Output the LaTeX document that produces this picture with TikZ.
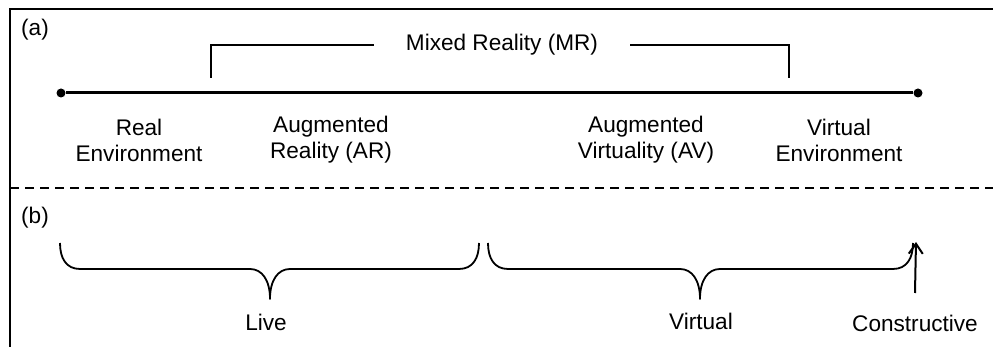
\documentclass[tikz,border=0pt]{standalone}
\usepackage{fontspec}
\setmainfont{Liberation Sans}
\usetikzlibrary{arrows.meta,positioning,calc}

\begin{document}
\begin{tikzpicture}[x=0.5pt, y=-0.5pt,
    every node/.style={font=\fontsize{11.3}{13}\selectfont, inner sep=2pt},
    lbl/.style={align=center},
    dot/.style={circle, fill=black, inner sep=0pt, minimum size=4.5pt},
    brace/.style={line width=0.9pt, line join=round}]
    \useasboundingbox (0,0) rectangle (993,347);

    % Frame and separator
    \draw[line width=1.2pt] (10,347) -- (10,9) -- (993,9);
    \draw[line width=0.6pt, dash pattern=on 4.5pt off 3pt] (10,188) -- (993,188);
    \node (a) at (35,30) {(a)};
    \node (b) at (35,218) {(b)};

    % The continuum
    \node[dot] (re) at (61,93) {};
    \node[dot] (ve) at (918,93) {};
    \draw[line width=1.5pt] (re) -- (ve);

    % Mixed reality bracket
    \node[inner xsep=16pt] (mr) at (502,45) {Mixed Reality (MR)};
    \coordinate (mrl) at (211,78);
    \coordinate (mrr) at (789,78);
    \draw[line width=0.8pt] (mrl) |- (mr.west);
    \draw[line width=0.8pt] (mrr) |- (mr.east);

    % Labels below the line
    \node[lbl] (renv) at (139,140) {Real\\Environment};
    \node[lbl] (ar) at (331,140) {Augmented\\Reality (AR)};
    \node[lbl] (av) at (646,140) {Augmented\\Virtuality (AV)};
    \node[lbl] (venv) at (839,140) {Virtual\\Environment};

    % Live
    \draw[brace] (60,243) .. controls (60,258) and (66,269) .. (80,269) -- (250,269)
        .. controls (262,269) and (270,280) .. (270,299)
        .. controls (270,280) and (278,269) .. (290,269) -- (459,269)
        .. controls (473,269) and (479,258) .. (479,243);
    \node (live) at (266,322) {Live};

    % Virtual
    \draw[brace] (488,243) .. controls (488,258) and (494,269) .. (508,269) -- (680,269)
        .. controls (692,269) and (700,280) .. (700,299)
        .. controls (700,280) and (708,269) .. (720,269) -- (893,269)
        .. controls (907,269) and (913,258) .. (913,243);
    \node (virt) at (701,321) {Virtual};

    % Constructive
    \node (con) at (915,323) {Constructive};
    \coordinate (ctop) at (916,242);
    \draw[line width=1pt, -{Straight Barb[length=5pt, width=7pt]}] (con.north |- 0,293) -- (ctop);
\end{tikzpicture}
\end{document}
